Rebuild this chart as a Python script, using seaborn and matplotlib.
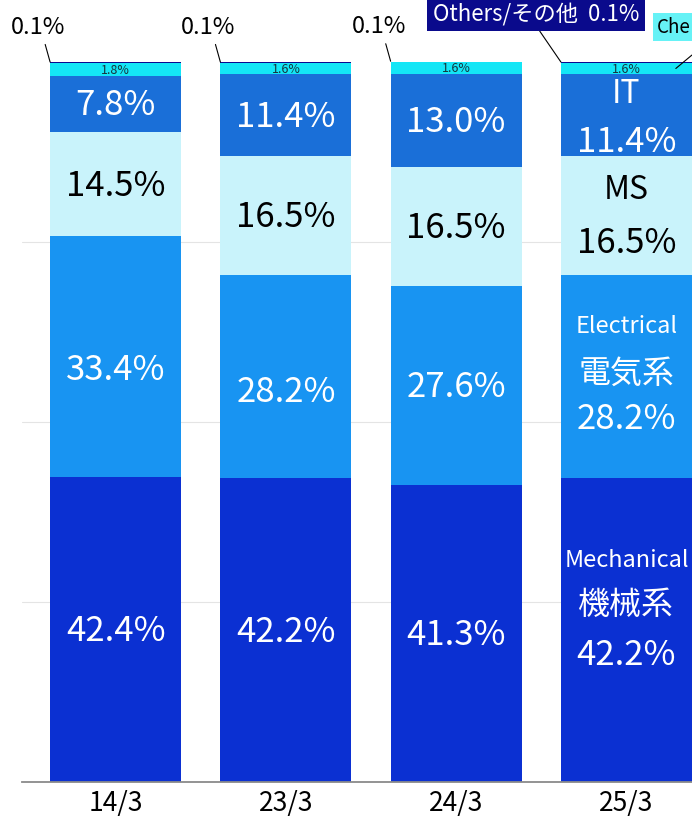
import numpy as np
import pandas as pd
import matplotlib
matplotlib.use("Agg")
import matplotlib.pyplot as plt
import seaborn as sns

# ---- data ----
years = ["14/3", "23/3", "24/3", "25/3"]
mechanical = [42.4, 42.2, 41.3, 42.2]
electrical = [33.4, 28.2, 27.6, 28.2]
ms = [14.5, 16.5, 16.5, 16.5]
it = [7.8, 11.4, 13.0, 11.4]
chemistry = [1.8, 1.6, 1.6, 1.6]
others = [0.1, 0.1, 0.1, 0.1]

layers = [mechanical, electrical, ms, it, chemistry, others]
layer_colors = ["#0b30d2", "#1894f2", "#c9f3fb", "#1a6fd8", "#14e6f6", "#0a0a90"]
text_colors = ["white", "white", "black", "white", "#17343c", "white"]

sns.set_theme(style="white")
FONT = ["Noto Sans CJK JP", "DejaVu Sans"]
plt.rcParams["font.family"] = FONT

fig = plt.figure(figsize=(6.92, 8.21), dpi=100)
fig.patch.set_facecolor("white")
ax = fig.add_axes([22 / 692, 39 / 821, 670 / 692, 720 / 821])
ax.set_facecolor("white")

df = pd.DataFrame({"year": years})
cum = np.cumsum(np.array(layers), axis=0)
W = 0.77
for k in reversed(range(len(layers))):
    df["v"] = cum[k]
    sns.barplot(data=df, x="year", y="v", color=layer_colors[k], width=W,
                saturation=1, linewidth=0, ax=ax, zorder=2)

ax.set_xlim(-0.55, 3.385)
ax.set_ylim(0, 100)
ax.set_yticks([25, 50, 75])
ax.set_yticklabels([])
ax.yaxis.grid(True, color="#e4e4e4", lw=0.8, zorder=0)
ax.set_axisbelow(True)
ax.tick_params(axis="y", length=0)
ax.tick_params(axis="x", length=0, pad=6, labelsize=19, labelcolor="black")
ax.set_xlabel("")
ax.set_ylabel("")
for s in ["top", "left", "right"]:
    ax.spines[s].set_visible(False)
ax.spines["bottom"].set_color("#8a8a8a")
ax.spines["bottom"].set_linewidth(1.3)

PX = 0.72  # points per pixel


def lab(i, k, text, size, dy_px=0.0):
    bottom = cum[k][i] - layers[k][i]
    yc = bottom + layers[k][i] / 2
    ax.annotate(text, xy=(i, yc), xytext=(0, -dy_px * PX), textcoords="offset points",
                ha="center", va="center", fontsize=size, color=text_colors[k],
                family=FONT, zorder=5, annotation_clip=False)


# label offsets (pixels, positive = downward)
elec_dy = [14, 16, 2]
for i in range(3):
    lab(i, 0, f"{mechanical[i]:.1f}%", 25, 2)
    lab(i, 1, f"{electrical[i]:.1f}%", 25, elec_dy[i])
    lab(i, 2, f"{ms[i]:.1f}%", 25, 2)
    lab(i, 3, f"{it[i]:.1f}%", 25, 2)
    lab(i, 4, f"{chemistry[i]:.1f}%", 9, 1)

# 25/3 bar: multi-line labels
i = 3
lab(i, 3, "IT", 23, -21)
lab(i, 3, f"{it[i]:.1f}%", 25, 27)
lab(i, 2, "MS", 23, -26)
lab(i, 2, f"{ms[i]:.1f}%", 25, 28)
lab(i, 1, "Electrical", 17, -50)
lab(i, 1, "電気系", 23, -3)
lab(i, 1, f"{electrical[i]:.1f}%", 25, 43)
lab(i, 0, "Mechanical", 17, -70)
lab(i, 0, "機械系", 23, -25)
lab(i, 0, f"{mechanical[i]:.1f}%", 25, 25)
lab(i, 4, f"{chemistry[i]:.1f}%", 9, 1)

# "Others" 0.1% labels with leader lines
for i in range(3):
    ax.annotate(f"{others[i]:.1f}%", xy=(i - W / 2, cum[5][i]),
                xytext=(-12 * PX, 35 * PX), textcoords="offset points",
                ha="center", va="center", fontsize=17, color="black", family=FONT,
                annotation_clip=False,
                arrowprops=dict(arrowstyle="-", color="black", lw=0.8,
                                shrinkA=2, shrinkB=0, relpos=(0.6, 0.0)))

i = 3
ax.annotate(f"Others/その他  {others[i]:.1f}%", xy=(i - W / 2, cum[5][i]),
            xytext=(-25 * PX, 48 * PX), textcoords="offset points",
            ha="center", va="center", fontsize=16, color="white", family=FONT,
            annotation_clip=False,
            bbox=dict(boxstyle="square,pad=0.25", fc="#0a0a8c", ec="none"),
            arrowprops=dict(arrowstyle="-", color="black", lw=0.8,
                            shrinkA=0, shrinkB=0, relpos=(0.5, 0.0)))

ax.annotate("Che", xy=(i + 0.29, cum[4][i] - chemistry[i] / 2),
            xytext=(657, 794), textcoords="figure pixels",
            ha="left", va="center", fontsize=13.5, color="black", family=FONT,
            annotation_clip=False,
            bbox=dict(boxstyle="square,pad=0.2", fc="#66f2f6", ec="none"))
ax.annotate("", xy=(i + 0.29, cum[4][i] - chemistry[i] / 2),
            xytext=(692, 766), textcoords="figure pixels",
            annotation_clip=False,
            arrowprops=dict(arrowstyle="-", color="black", lw=0.8, shrinkA=0, shrinkB=0))

fig.savefig("out.png", dpi=100, facecolor="white")
